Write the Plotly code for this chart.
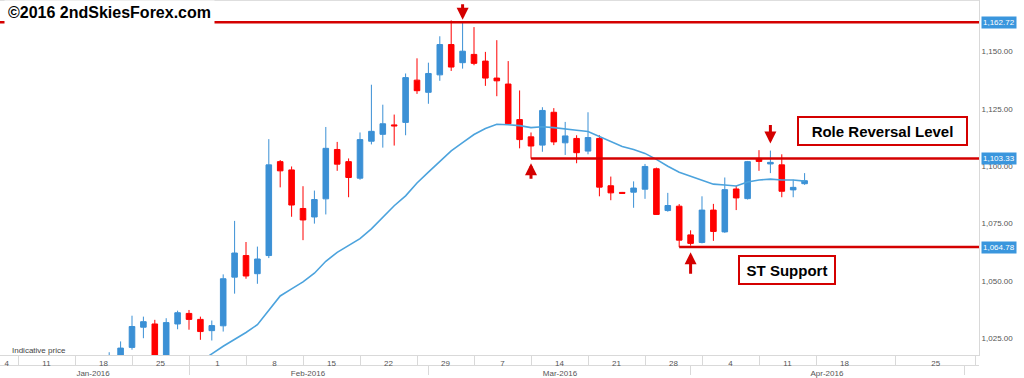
import plotly.graph_objects as go
import pandas as pd

# ---------------- data ----------------
dates = [
    "2016-01-21", "2016-01-22",
    "2016-01-25", "2016-01-26", "2016-01-27", "2016-01-28", "2016-01-29",
    "2016-02-01", "2016-02-02", "2016-02-03", "2016-02-04", "2016-02-05",
    "2016-02-08", "2016-02-09", "2016-02-10", "2016-02-11", "2016-02-12",
    "2016-02-15", "2016-02-16", "2016-02-17", "2016-02-18", "2016-02-19",
    "2016-02-22", "2016-02-23", "2016-02-24", "2016-02-25", "2016-02-26",
    "2016-02-29", "2016-03-01", "2016-03-02", "2016-03-03", "2016-03-04",
    "2016-03-07", "2016-03-08", "2016-03-09", "2016-03-10", "2016-03-11",
    "2016-03-14", "2016-03-15", "2016-03-16", "2016-03-17", "2016-03-18",
    "2016-03-21", "2016-03-22", "2016-03-23", "2016-03-24", "2016-03-25",
    "2016-03-28", "2016-03-29", "2016-03-30", "2016-03-31", "2016-04-01",
    "2016-04-04", "2016-04-05", "2016-04-06", "2016-04-07", "2016-04-08",
    "2016-04-11", "2016-04-12", "2016-04-13", "2016-04-14", "2016-04-15",
]
opens = [
    1012.0, 1014.0,
    1021.1, 1029.9, 1031.3, 1012.5, 1031.3,
    1035.9, 1033.3, 1028.4, 1030.5, 1051.7,
    1061.1, 1053.2, 1061.1, 1102.0, 1098.4,
    1081.6, 1077.9, 1085.8, 1107.3, 1102.0,
    1094.8, 1110.9, 1113.9, 1118.0, 1119.1,
    1137.5, 1132.2, 1139.8, 1153.0, 1145.1,
    1148.7, 1145.8, 1138.4, 1135.8, 1120.3,
    1112.8, 1109.2, 1123.5, 1110.2, 1112.1,
    1106.6, 1112.1, 1091.5, 1088.6, 1088.7,
    1090.0, 1098.9, 1080.7, 1082.6, 1070.1,
    1066.8, 1080.9, 1071.4, 1090.1, 1085.9,
    1103.4, 1101.0, 1100.6, 1089.7, 1092.4,
]
highs = [
    1019.0, 1023.7,
    1034.9, 1034.5, 1033.1, 1033.8, 1037.1,
    1037.4, 1034.5, 1032.8, 1052.9, 1076.2,
    1067.0, 1065.0, 1111.8, 1102.7, 1099.9,
    1091.3, 1089.4, 1117.1, 1110.6, 1103.4,
    1114.7, 1135.5, 1126.8, 1122.5, 1140.4,
    1147.0, 1145.1, 1156.6, 1163.5, 1162.7,
    1160.6, 1149.8, 1154.9, 1145.8, 1133.0,
    1114.7, 1125.7, 1125.3, 1119.3, 1113.5,
    1123.5, 1113.5, 1095.5, 1088.8, 1093.4,
    1101.0, 1099.4, 1088.4, 1083.5, 1072.1,
    1086.9, 1083.6, 1095.1, 1091.5, 1102.3,
    1107.0, 1106.8, 1105.2, 1094.1, 1097.0,
]
lows = [
    1010.0, 1011.0,
    1020.1, 1025.1, 1010.0, 1010.0, 1029.0,
    1028.8, 1024.4, 1024.1, 1028.0, 1044.5,
    1051.0, 1048.8, 1060.0, 1090.8, 1078.0,
    1067.8, 1075.0, 1079.0, 1098.0, 1086.5,
    1094.1, 1109.5, 1108.1, 1109.0, 1113.5,
    1131.5, 1127.2, 1137.2, 1141.5, 1142.5,
    1144.0, 1135.0, 1130.5, 1118.0, 1107.8,
    1103.3, 1106.3, 1109.2, 1104.9, 1101.3,
    1105.2, 1086.9, 1085.2, 1088.0, 1081.9,
    1085.8, 1078.8, 1080.2, 1064.8, 1065.4,
    1066.4, 1067.5, 1071.0, 1080.9, 1085.5,
    1098.0, 1097.0, 1086.5, 1086.5, 1091.9,
]
closes = [
    1016.5, 1020.8,
    1030.2, 1032.3, 1012.0, 1031.9, 1036.2,
    1033.3, 1028.0, 1030.6, 1051.0, 1062.2,
    1052.2, 1059.6, 1100.6, 1098.0, 1083.1,
    1076.6, 1085.5, 1107.8, 1100.9, 1095.1,
    1111.6, 1115.2, 1118.5, 1117.6, 1138.6,
    1132.9, 1140.4, 1153.0, 1143.2, 1150.1,
    1144.8, 1138.4, 1137.2, 1118.5, 1111.6,
    1108.8, 1124.3, 1110.6, 1113.2, 1105.9,
    1112.5, 1090.9, 1088.4, 1088.2, 1090.5,
    1099.9, 1079.0, 1082.9, 1067.8, 1066.4,
    1080.9, 1071.6, 1089.8, 1086.2, 1102.0,
    1102.1, 1101.7, 1089.1, 1090.8, 1093.7,
]
moving_avg = [
    None, None,
    None, None, None, None, None,
    1011.5, 1015.1, 1018.3, 1021.6, 1024.6,
    1027.6, 1031.0, 1037.5, 1043.5, 1046.6,
    1049.6, 1053.4, 1058.6, 1062.5, 1065.5,
    1068.5, 1072.7, 1077.8, 1082.8, 1087.1,
    1092.7, 1097.4, 1102.2, 1106.7, 1110.3,
    1113.8, 1116.4, 1118.3, 1118.1, 1117.7,
    1116.8, 1117.2, 1116.8, 1116.4, 1115.7,
    1115.1, 1112.9, 1110.8, 1108.6, 1107.3,
    1105.6, 1103.0, 1100.0, 1097.4, 1095.7,
    1094.0, 1092.2, 1091.8, 1091.4, 1093.1,
    1094.0, 1094.4, 1094.0, 1094.0, 1093.5,
]

# horizontal levels drawn by the author
level_values = [1162.72, 1103.33, 1064.78]
level_texts = ["1,162.72", "1,103.33", "1,064.78"]
level_starts = [None, "2016-03-14", "2016-03-31"]

# arrows: (date, price at tip, direction)
arrow_dates = ["2016-03-04", "2016-03-14", "2016-04-01", "2016-04-12"]
arrow_prices = [1163.8, 1101.3, 1062.5, 1109.9]
arrow_dirs = ["down", "up", "up", "down"]

# axis labels
y_ticks = [1025, 1050, 1075, 1100, 1125, 1150]
week_label_pos = ["2016-01-08 00:30", "2016-01-13 12:00", "2016-01-20 12:00", "2016-01-27 12:00",
                  "2016-02-03 12:00", "2016-02-10 12:00", "2016-02-17 12:00", "2016-02-24 12:00",
                  "2016-03-02 12:00", "2016-03-09 12:00", "2016-03-16 12:00", "2016-03-23 12:00",
                  "2016-03-30 12:00", "2016-04-06 12:00", "2016-04-13 12:00", "2016-04-20 12:00",
                  "2016-04-28 12:00"]
week_labels = ["4", "11", "18", "25", "1", "8", "15", "22", "29", "7", "14", "21", "28",
               "4", "11", "18", "25"]
week_starts = ["2016-01-11", "2016-01-18", "2016-01-25", "2016-02-01", "2016-02-08", "2016-02-15",
               "2016-02-22", "2016-02-29", "2016-03-07", "2016-03-14", "2016-03-21", "2016-03-28",
               "2016-04-04", "2016-04-11", "2016-04-18", "2016-04-25", "2016-05-02"]
month_label_pos = ["2016-01-19 14:00", "2016-02-15 10:30", "2016-03-16 13:00", "2016-04-18 23:00"]
month_labels = ["Jan-2016", "Feb-2016", "Mar-2016", "Apr-2016"]
month_starts = ["2016-02-01", "2016-03-01", "2016-04-01", "2016-05-01"]

# ---------------- styling ----------------
BLUE = "#3b90d5"
RED = "#ff0000"
LINE_RED = "#d40000"
MA_BLUE = "#4ca3dd"
LABEL_BLUE = "#3a96dd"
GRID = "#d9d9d9"
TXT = "#555555"
FONT = "Arial, Liberation Sans, sans-serif"

X_RANGE = ["2016-01-07 10:06", "2016-05-02 07:10"]
Y_RANGE = [1017.7, 1172.4]
weekend_breaks = [d.strftime("%Y-%m-%d") for d in pd.date_range("2016-01-09", "2016-04-16", freq="7D")]
rb = [dict(values=weekend_breaks, dvalue=2 * 86400000)]

fig = go.Figure()
fig.add_trace(go.Candlestick(
    x=dates, open=opens, high=highs, low=lows, close=closes,
    increasing=dict(line=dict(color=BLUE, width=1), fillcolor=BLUE),
    decreasing=dict(line=dict(color=RED, width=1), fillcolor=RED),
    whiskerwidth=0, showlegend=False, hoverinfo="x+y",
))
fig.add_trace(go.Scatter(
    x=dates, y=moving_avg, mode="lines", line=dict(color=MA_BLUE, width=1.6),
    showlegend=False, hoverinfo="skip", connectgaps=False,
))
# helper trace so that the month axis is drawn
fig.add_trace(go.Scatter(
    x=dates, y=closes, xaxis="x2", yaxis="y", mode="markers",
    marker=dict(opacity=0, size=1), showlegend=False, hoverinfo="skip",
))

shapes = []
# top border
shapes.append(dict(type="line", xref="paper", yref="paper", x0=0, x1=1, y0=0.999, y1=0.999,
                   line=dict(color=GRID, width=1)))
for val, start in zip(level_values, level_starts):
    shapes.append(dict(type="line", xref="x", yref="y",
                       x0=start if start else X_RANGE[0], x1=X_RANGE[1], y0=val, y1=val,
                       line=dict(color=LINE_RED, width=2.5)))

annotations = []
for val, txt in zip(level_values, level_texts):
    annotations.append(dict(xref="paper", yref="y", x=1, y=val, xanchor="left", yanchor="middle",
                            xshift=2, text=txt, showarrow=False, bgcolor=LABEL_BLUE, borderpad=1,
                            font=dict(family=FONT, size=8, color="white")))
for d, p, direction in zip(arrow_dates, arrow_prices, arrow_dirs):
    length = 23 if d == "2016-04-01" else (20 if d == "2016-04-12" else 17)
    annotations.append(dict(xref="x", yref="y", x=d, y=p, ax=0,
                            ay=-length if direction == "down" else length,
                            text="", showarrow=True, arrowhead=2, arrowsize=0.8, arrowwidth=3,
                            arrowcolor=LINE_RED, standoff=0))
annotations.append(dict(xref="paper", yref="paper", x=0, y=1, xanchor="left", yanchor="top",
                        text="<b>©2016 2ndSkiesForex.com</b>", showarrow=False, bgcolor="white",
                        borderpad=3, xshift=4,
                        font=dict(family=FONT, size=16, color="black")))
annotations.append(dict(xref="paper", yref="paper", x=882.5 / 979, y=1 - 132 / 378,
                        xanchor="center", yanchor="middle", text="<b>Role Reversal Level</b>",
                        showarrow=False, bgcolor="white", bordercolor=LINE_RED, borderwidth=2,
                        borderpad=4, width=159, height=18,
                        font=dict(family=FONT, size=15, color="black")))
annotations.append(dict(xref="paper", yref="paper", x=787 / 979, y=1 - 273 / 378,
                        xanchor="center", yanchor="middle", text="<b>ST Support</b>",
                        showarrow=False, bgcolor="white", bordercolor=LINE_RED, borderwidth=2,
                        borderpad=4, width=86, height=18,
                        font=dict(family=FONT, size=15, color="black")))
annotations.append(dict(xref="paper", yref="paper", x=10 / 979, y=1 - 354 / 378,
                        xanchor="left", yanchor="middle", text="Indicative price", showarrow=False,
                        font=dict(family=FONT, size=8, color="#444444")))

fig.update_layout(
    width=1024, height=378,
    margin=dict(l=0, r=45, t=0, b=0),
    paper_bgcolor="white", plot_bgcolor="white",
    showlegend=False,
    font=dict(family=FONT, size=8, color=TXT),
    xaxis=dict(
        type="date", range=X_RANGE, rangebreaks=rb, rangeslider=dict(visible=False),
        anchor="y", showgrid=False, zeroline=False,
        showline=True, linecolor=GRID, linewidth=1,
        tickmode="array", tickvals=week_label_pos, ticktext=week_labels, ticks="",
        tickfont=dict(family=FONT, size=8, color=TXT),
        minor=dict(tickmode="array", tickvals=week_starts, ticks="outside", ticklen=10,
                   tickcolor=GRID, tickwidth=1, showgrid=False),
    ),
    xaxis2=dict(
        type="date", range=X_RANGE, rangebreaks=rb, overlaying="x", anchor="free",
        position=9 / 378, side="bottom", showgrid=False, zeroline=False,
        showline=True, linecolor=GRID, linewidth=1,
        tickmode="array", tickvals=month_label_pos, ticktext=month_labels, ticks="",
        tickfont=dict(family=FONT, size=8, color=TXT),
        minor=dict(tickmode="array", tickvals=month_starts, ticks="outside", ticklen=9,
                   tickcolor=GRID, tickwidth=1, showgrid=False),
    ),
    yaxis=dict(
        side="right", range=Y_RANGE, domain=[19 / 378, 1], showgrid=False, zeroline=False,
        showline=True, linecolor=GRID, linewidth=1,
        tickmode="array", tickvals=y_ticks, tickformat=",.2f", ticks="",
        tickfont=dict(family=FONT, size=8, color=TXT),
    ),
    shapes=shapes,
    annotations=annotations,
)

fig.write_html("out.html", post_script="document.body.style.margin='0';")
